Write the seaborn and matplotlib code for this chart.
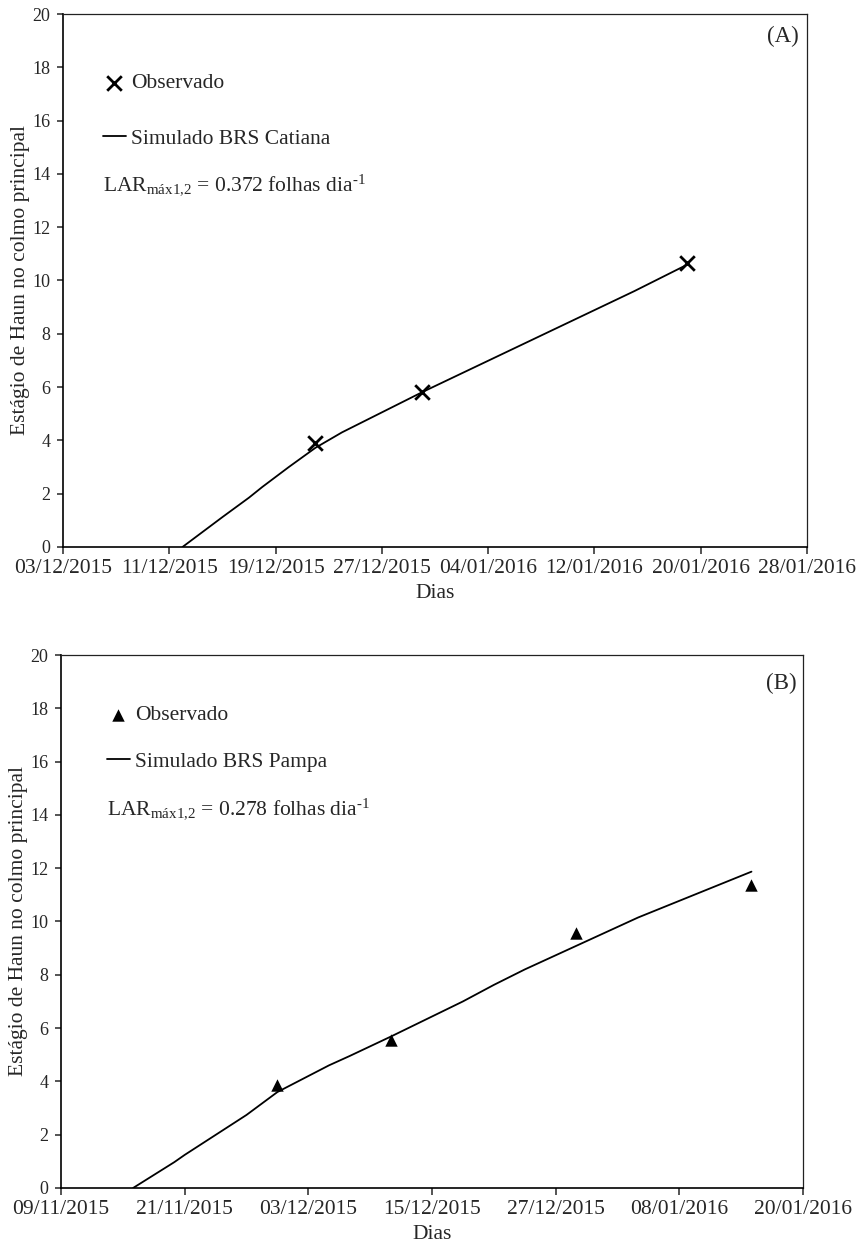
import pandas as pd
import numpy as np
import matplotlib
matplotlib.use("Agg")
import matplotlib.pyplot as plt
import matplotlib.dates as mdates
import seaborn as sns

sns.set_style("ticks")
plt.rcParams['font.family'] = ['Liberation Serif', 'DejaVu Serif']
plt.rcParams['mathtext.fontset'] = 'custom'
plt.rcParams['mathtext.rm'] = 'Liberation Serif'
plt.rcParams['mathtext.it'] = 'Liberation Serif:italic'

# ======================================================
# Data - (A) BRS Catiana
# ======================================================

obs_a_dates = ["2015-12-22", "2015-12-30", "2016-01-19"]
obs_a_vals = [3.9, 5.8, 10.65]

sim_a_dates = ["2015-12-12", "2015-12-15", "2015-12-17", "2015-12-18", "2015-12-20",
               "2015-12-22", "2015-12-24", "2015-12-26", "2015-12-28", "2015-12-30",
               "2016-01-03", "2016-01-07", "2016-01-11", "2016-01-15", "2016-01-19"]
sim_a_vals = [0.0, 1.12, 1.85, 2.25, 3.0,
              3.72, 4.3, 4.8, 5.3, 5.8,
              6.75, 7.7, 8.65, 9.6, 10.6]

ticks_a = ["2015-12-03", "2015-12-11", "2015-12-19", "2015-12-27",
           "2016-01-04", "2016-01-12", "2016-01-20", "2016-01-28"]

# ======================================================
# Data - (B) BRS Pampa
# ======================================================

obs_b_dates = ["2015-11-30", "2015-12-11", "2015-12-29", "2016-01-15"]
obs_b_vals = [3.85, 5.55, 9.55, 11.37]

sim_b_dates = ["2015-11-16", "2015-11-20", "2015-11-21", "2015-11-27", "2015-11-30",
               "2015-12-05", "2015-12-07", "2015-12-11", "2015-12-18", "2015-12-21",
               "2015-12-24", "2016-01-04", "2016-01-15"]
sim_b_vals = [0.0, 0.97, 1.24, 2.74, 3.6,
              4.6, 4.95, 5.68, 7.0, 7.62,
              8.2, 10.15, 11.87]

ticks_b = ["2015-11-09", "2015-11-21", "2015-12-03", "2015-12-15",
           "2015-12-27", "2016-01-08", "2016-01-20"]

yticks = list(range(0, 21, 2))


def draw_panel(ax, obs_d, obs_v, sim_d, sim_v, ticks, marker, msize, sim_label,
               lar_text, letter, leg_xy, lar_xy, lspace):
    sns.lineplot(x=pd.to_datetime(sim_d), y=sim_v, ax=ax, color="black",
                 linewidth=1.3, label=sim_label)
    if marker == "x":
        sns.scatterplot(x=pd.to_datetime(obs_d), y=obs_v, ax=ax, marker="x",
                        s=msize, color="black", linewidth=2.0, label="Observado",
                        zorder=3)
    else:
        sns.scatterplot(x=pd.to_datetime(obs_d), y=obs_v, ax=ax, marker="^",
                        s=msize, color="black", edgecolor="black", linewidth=0,
                        label="Observado", zorder=3)

    t = pd.to_datetime(ticks)
    ax.set_xlim(t[0], t[-1])
    ax.set_xticks(t)
    ax.xaxis.set_major_formatter(mdates.DateFormatter("%d/%m/%Y"))
    ax.set_ylim(0, 20)
    ax.set_yticks(yticks)

    ax.tick_params(axis="x", labelsize=15.5, length=5, width=1.1, direction="out", pad=4)
    ax.tick_params(axis="y", labelsize=13, length=4, width=1.1, direction="out", pad=5)
    for side in ["left", "bottom"]:
        ax.spines[side].set_linewidth(1.2)
        ax.spines[side].set_color("black")
    for side in ["top", "right"]:
        ax.spines[side].set_visible(True)
        ax.spines[side].set_linewidth(0.9)
        ax.spines[side].set_color("#222222")

    ax.set_xlabel("Dias", fontsize=15.5, labelpad=4)
    ax.set_ylabel("Estágio de Haun no colmo principal", fontsize=15.5, labelpad=2)

    h, l = ax.get_legend_handles_labels()
    order = [l.index("Observado"), l.index(sim_label)]
    ax.legend([h[i] for i in order], [l[i] for i in order],
              loc="upper left", bbox_to_anchor=leg_xy, frameon=False,
              fontsize=15.5, handlelength=1.05, handletextpad=0.25,
              labelspacing=lspace, borderpad=0, borderaxespad=0)

    ax.text(lar_xy[0], lar_xy[1], lar_text, transform=ax.transAxes,
            fontsize=15.5, ha="left", va="center")
    ax.text(letter[1], letter[2], letter[0], transform=ax.transAxes,
            fontsize=16.5, ha="right", va="center")


fig = plt.figure(figsize=(8.58, 12.51), dpi=100)
ax_a = fig.add_axes([0.0734, 0.5628, 0.8672, 0.4260])
ax_b = fig.add_axes([0.0711, 0.0504, 0.8648, 0.4260])

draw_panel(ax_a, obs_a_dates, obs_a_vals, sim_a_dates, sim_a_vals, ticks_a,
           "x", 110, "Simulado BRS Catiana",
           r"LAR$_{\mathrm{máx1{,}2}}$ = 0.372 folhas dia$^{\text{-1}}$",
           ("(A)", 0.989, 0.957), (0.054, 0.889), (0.054, 0.679), 1.64)

draw_panel(ax_b, obs_b_dates, obs_b_vals, sim_b_dates, sim_b_vals, ticks_b,
           "^", 80, "Simulado BRS Pampa",
           r"LAR$_{\mathrm{máx1{,}2}}$ = 0.278 folhas dia$^{\text{-1}}$",
           ("(B)", 0.992, 0.947), (0.062, 0.906), (0.062, 0.711), 1.23)

fig.savefig("out.png", dpi=100)
